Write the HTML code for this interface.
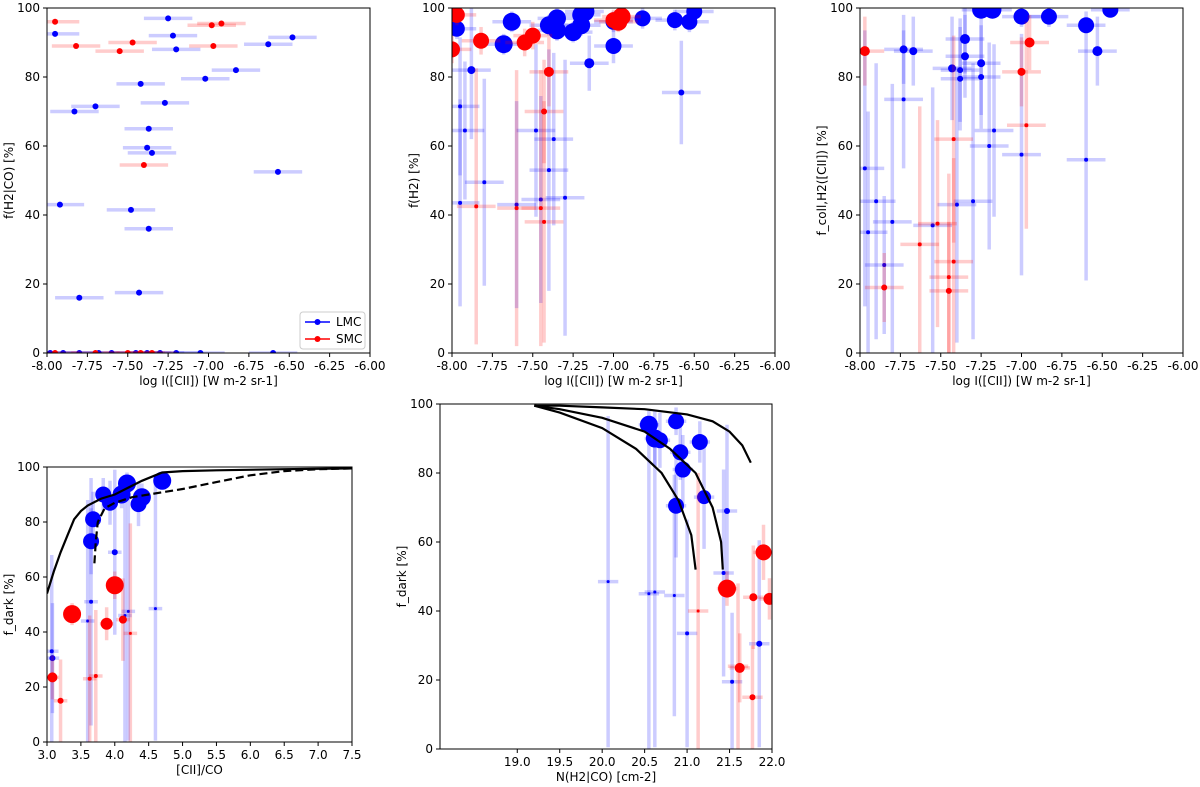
<!DOCTYPE html>
<html><head><meta charset="utf-8">
<style>
body{margin:0;background:#fff;width:1200px;height:783px;overflow:hidden;font-family:"DejaVu Sans","Liberation Sans",sans-serif;}
svg text{font-family:"DejaVu Sans","Liberation Sans",sans-serif;font-size:12px;fill:#000;}
</style></head><body>
<svg id="fig" width="1200" height="783" viewBox="0 0 1200 783"></svg>
<script>
// ---------- DATA ----------
const p1LmcX=[-7.25,-7.95,-7.22,-6.48,-7.2,-6.63,-6.83,-7.42,-7.02,-7.7,-7.27,-7.83,-7.37,-7.38,-7.35,-6.57,-7.92,-7.48,-7.37,-7.8,-7.43,-7.98,-7.9,-7.8,-7.68,-7.6,-7.45,-7.38,-7.3,-7.2,-7.05,-6.6];
const p1LmcY=[97,92.5,92,91.5,88,89.5,82,78,79.5,71.5,72.5,70,65,59.5,58,52.5,43,41.5,36,16,17.5,0,0,0,0,0,0,0,0,0,0,0];
const p1SmcX=[-7.95,-6.98,-6.92,-7.47,-7.82,-7.55,-6.97,-7.4,-7.95,-7.7,-7.5,-7.42,-7.35];
const p1SmcY=[96,95,95.5,90,89,87.5,89,54.5,0,0,0,0,0];
const p2LmcX=[-7.97,-7.68,-7.63,-7.4,-7.35,-7.35,-7.25,-7.2,-7.18,-7.2,-7.0,-7.0,-6.82,-6.62,-6.53,-6.5,-7.15,-7.88,-6.58,-7.95,-7.92,-7.48,-7.37,-7.8,-7.4,-7.95,-7.6,-7.45,-7.3];
const p2LmcY=[94,89.5,96,95,93.5,97,93,98,99,95,96,89,97,96.5,96,99,84,82,75.5,71.5,64.5,64.5,62,49.5,53,43.5,43,44.5,45];
const p2LmcR=[8,9,9,9,9,9,9,9,10,9,8,8,8,8,8,8,5,4,3,2,2,2,2,2,2,2,2,2,2];
const p2LmcYe=[3,3,3,3,3,3,3,3,2,3,3,5,3,3,3,2,8,20,15,20,20,25,25,30,35,30,30,30,40];
const p2SmcX=[-8.0,-7.97,-7.82,-7.55,-7.5,-7.4,-7.43,-6.97,-6.95,-7.0,-7.85,-7.6,-7.43,-7.45];
const p2SmcY=[88,98,90.5,90,92,81.5,70,96,97.5,96.5,42.5,42,38,42];
const p2SmcR=[8,8,8,8,8,5,3,9,9,8,2,2,2,2];
const p2SmcYe=[4,3,4,4,4,10,15,3,3,3,40,40,35,40];
const p3LmcX=[-7.25,-7.18,-7.0,-6.83,-6.6,-6.45,-6.53,-7.73,-7.67,-7.35,-7.35,-7.25,-7.43,-7.38,-7.38,-7.25,-7.73,-7.17,-7.2,-7.0,-6.6,-7.97,-7.9,-7.8,-7.55,-7.4,-7.3,-7.95,-7.85];
const p3LmcY=[99.5,99.5,97.5,97.5,95,99.5,87.5,88,87.5,91,86,84,82.5,79.5,82,80,73.5,64.5,60,57.5,56,53.5,44,38,37,43,44,35,25.5];
const p3LmcR=[9,9,8,8,8,8,5,4,4,5,4,4,4,3,3,3,2,2,2,2,2,2,2,2,2,2,2,2,2];
const p3LmcYe=[2,2,3,3,4,2,10,10,10,10,12,15,15,15,15,15,20,25,30,35,35,40,40,40,40,40,40,35,20];
const p3SmcX=[-7.97,-6.95,-7.0,-6.97,-7.42,-7.85,-7.45,-7.45,-7.42,-7.63,-7.52];
const p3SmcY=[87.5,90,81.5,66,62,19,18,22,26.5,31.5,37.5];
const p3SmcR=[5,5,4,2,2,3,3,2,2,2,2];
const p3SmcYe=[10,8,10,30,30,10,20,30,30,40,30];
const p4SolidX=[3.0,3.1,3.2,3.3,3.4,3.5,3.6,3.8,4.0,4.2,4.4,4.7,5.0,5.5,6.5,7.5];
const p4SolidY=[54,62,69,75,81,84,86,88.5,90,92.5,95,98,98.5,98.8,99.2,99.5];
const p4DashX=[3.7,3.72,3.75,3.85,4.0,4.25,4.5,5.0,5.5,6.0,6.5,7.0,7.5];
const p4DashY=[65,73,80,85,87,89,90,92,94.5,97,98.5,99.2,99.5];
const p4LmcX=[4.7,4.18,4.1,4.4,3.83,3.93,4.35,3.68,3.65,4.0,3.65,3.08,3.07,4.6,4.2,4.15,3.6];
const p4LmcY=[95,94,90,89,90,87,86.5,81,73,69,51,30.5,33,48.5,47.5,46,44];
const p4LmcR=[9,9,9,9,8,8,8,8,8,3,2,3,2,1.5,1.5,1.5,1.5];
const p4LmcYe=[3,4,5,5,6,8,8,10,12,30,45,20,35,48,47,46,44];
const p4SmcX=[3.37,4.0,3.88,4.12,3.08,3.2,3.72,3.63,4.23];
const p4SmcY=[46.5,57,43,44.5,23.5,15,24,23,39.5];
const p4SmcR=[9,9,6,4,5,3,2,2,1.5];
const p4SmcYe=[4,5,6,15,8,15,24,23,40];
const p5C1X=[19.2,19.5,20.0,20.5,21.0,21.3,21.5,21.65,21.75];
const p5C1Y=[99.5,99.5,99,98.5,97,95,92,88,83];
const p5C2X=[19.2,19.5,20.0,20.5,20.8,21.1,21.3,21.4,21.42];
const p5C2Y=[99.5,98.5,96,92,87,80,70,60,52];
const p5C3X=[19.2,19.5,20.0,20.4,20.7,20.9,21.05,21.1];
const p5C3Y=[99.5,97.5,93,87,80,72,62,52];
const p5LmcX=[20.55,20.87,20.62,20.68,21.15,20.92,20.95,21.2,20.87,21.47,21.43,20.07,20.55,20.62,20.85,21.0,21.85,21.53];
const p5LmcY=[94,95,90,89.5,89,86,81,73,70.5,69,51,48.5,45,45.5,44.5,33.5,30.5,19.5];
const p5LmcR=[9,8,9,8,8,8,8,7,8,3,2,1.5,1.5,1.5,1.5,2,3,2];
const p5LmcYe=[4,4,8,8,6,8,10,15,15,25,30,48,45,45,35,33,30,20];
const p5SmcX=[21.47,21.9,21.97,21.78,21.62,21.77,21.13,21.6];
const p5SmcY=[46.5,57,43.5,44,23.5,15,40,24];
const p5SmcR=[9,8,6,4,5,3,1.5,2];
const p5SmcYe=[5,8,6,15,10,15,40,24];

// ---------- DRAW ----------
const NS='http://www.w3.org/2000/svg';
const svg=document.getElementById('fig');
function mk(tag,attrs,parent){const e=document.createElementNS(NS,tag);for(const k in attrs)e.setAttribute(k,attrs[k]);(parent||svg).appendChild(e);return e;}
const BLUE='#0000ff',RED='#ff0000',EB='rgba(0,0,255,0.2)',ER='rgba(255,0,0,0.2)';

function panel(id,box,xr,xticks,xfmt,xlabel,ylabel){
  const g=mk('g',{});
  
  
  const sx=v=>box.x0+(v-xr[0])/(xr[1]-xr[0])*(box.x1-box.x0);
  const sy=v=>box.y1-(v/100)*(box.y1-box.y0);
  const clipId=id+'-clip';
  const cp=mk('clipPath',{id:clipId},g);mk('rect',{x:box.x0,y:box.y0,width:box.x1-box.x0,height:box.y1-box.y0},cp);
  const plot=mk('g',{'clip-path':'url(#'+clipId+')'},g);
  
  
  xticks.forEach(t=>{const x=sx(t);mk('line',{x1:x,x2:x,y1:box.y1,y2:box.y1+4,stroke:'#000'},g);
    const tx=mk('text',{x:x,y:box.y1+17,'text-anchor':'middle'},g);tx.textContent=t.toFixed(xfmt);});
  [0,20,40,60,80,100].forEach(t=>{const y=sy(t);mk('line',{x1:box.x0-4,x2:box.x0,y1:y,y2:y,stroke:'#000'},g);
    const tx=mk('text',{x:box.x0-7,y:y+4,'text-anchor':'end'},g);tx.textContent=t;});
  const xl=mk('text',{x:(box.x0+box.x1)/2,y:box.y1+32,'text-anchor':'middle'},g);xl.textContent=xlabel;
  
  
  const yx=box.x0-34,ym=(box.y0+box.y1)/2;
  const yl=mk('text',{x:yx,y:ym,'text-anchor':'middle',transform:'rotate(-90 '+yx+' '+ym+')'},g);yl.textContent=ylabel;
  
  
  return {g,plot,sx,sy,box};
}
function frame(P){const b=P.box;mk('rect',{x:b.x0,y:b.y0,width:b.x1-b.x0,height:b.y1-b.y0,fill:'none',stroke:'#000','stroke-width':1},P.g);}
function series(P,xs,ys,rs,xe,yes,col,ecol,name){
  const g=mk('g',{},P.plot);
  
  
  xs.forEach((x,i)=>{
    const cx=P.sx(x),cy=P.sy(ys[i]);
    mk('line',{x1:P.sx(x-xe),x2:P.sx(x+xe),y1:cy,y2:cy,stroke:ecol,'stroke-width':3.5},g);
    const ye=yes?yes[i]:0;
    if(ye>0)mk('line',{x1:cx,x2:cx,y1:P.sy(ys[i]-ye),y2:P.sy(ys[i]+ye),stroke:ecol,'stroke-width':3.5},g);
  });
  xs.forEach((x,i)=>{
    const c=mk('circle',{cx:P.sx(x),cy:P.sy(ys[i]),r:rs?rs[i]:3,fill:col},g);
    
    
  });
}
function curve(P,xs,ys,dash,name){
  const d=xs.map((x,i)=>(i?'L':'M')+P.sx(x).toFixed(1)+','+P.sy(ys[i]).toFixed(1)).join(' ');
  const p=mk('path',{d:d,fill:'none',stroke:'#000','stroke-width':2.2,'stroke-dasharray':dash?'8,4':'none'},P.plot);
  
  
}
const xt1=[-8,-7.75,-7.5,-7.25,-7,-6.75,-6.5,-6.25,-6];
const xl1='log I([CII]) [W m-2 sr-1]';
const P1=panel('panel-fh2co',{x0:47,x1:370,y0:8,y1:353},[-8,-6],xt1,2,xl1,'f(H2|CO) [%]');
series(P1,p1LmcX,p1LmcY,null,0.15,null,BLUE,EB,'lmc-series');
series(P1,p1SmcX,p1SmcY,null,0.15,null,RED,ER,'smc-series');
frame(P1);
const lg=mk('g',{});
mk('rect',{x:300,y:312,width:65,height:37,rx:3,fill:'#fff',stroke:'#ccc'},lg);
mk('line',{x1:305,x2:330,y1:322,y2:322,stroke:BLUE,'stroke-width':1.5},lg);mk('circle',{cx:317.5,cy:322,r:3,fill:BLUE},lg);
mk('text',{x:336,y:326},lg).textContent='LMC';
mk('line',{x1:305,x2:330,y1:339,y2:339,stroke:RED,'stroke-width':1.5},lg);mk('circle',{cx:317.5,cy:339,r:3,fill:RED},lg);
mk('text',{x:336,y:343},lg).textContent='SMC';
const P2=panel('panel-fh2',{x0:452,x1:775,y0:8,y1:353},[-8,-6],xt1,2,xl1,'f(H2) [%]');
series(P2,p2LmcX,p2LmcY,p2LmcR,0.12,p2LmcYe,BLUE,EB,'lmc-series');
series(P2,p2SmcX,p2SmcY,p2SmcR,0.12,p2SmcYe,RED,ER,'smc-series');
frame(P2);
const P3=panel('panel-fcoll',{x0:860,x1:1183,y0:8,y1:353},[-8,-6],xt1,2,xl1,'f_coll,H2([CII]) [%]');
series(P3,p3LmcX,p3LmcY,p3LmcR,0.12,p3LmcYe,BLUE,EB,'lmc-series');
series(P3,p3SmcX,p3SmcY,p3SmcR,0.12,p3SmcYe,RED,ER,'smc-series');
frame(P3);
const P4=panel('panel-fdark-ratio',{x0:47,x1:352,y0:467,y1:742},[3,7.5],[3,3.5,4,4.5,5,5.5,6,6.5,7,7.5],1,'[CII]/CO','f_dark [%]');
series(P4,p4LmcX,p4LmcY,p4LmcR,0.1,p4LmcYe,BLUE,EB,'lmc-series');
series(P4,p4SmcX,p4SmcY,p4SmcR,0.1,p4SmcYe,RED,ER,'smc-series');
curve(P4,p4SolidX,p4SolidY,false,'model-solid');
curve(P4,p4DashX,p4DashY,true,'model-dashed');
frame(P4);
const P5=panel('panel-fdark-nh2',{x0:440,x1:772,y0:404,y1:749},[18.09,22],[19,19.5,20,20.5,21,21.5,22],1,'N(H2|CO) [cm-2]','f_dark [%]');
series(P5,p5LmcX,p5LmcY,p5LmcR,0.12,p5LmcYe,BLUE,EB,'lmc-series');
series(P5,p5SmcX,p5SmcY,p5SmcR,0.12,p5SmcYe,RED,ER,'smc-series');
curve(P5,p5C1X,p5C1Y,false,'model-curve-1');
curve(P5,p5C2X,p5C2Y,false,'model-curve-2');
curve(P5,p5C3X,p5C3Y,false,'model-curve-3');
frame(P5);
</script>
</body></html>
